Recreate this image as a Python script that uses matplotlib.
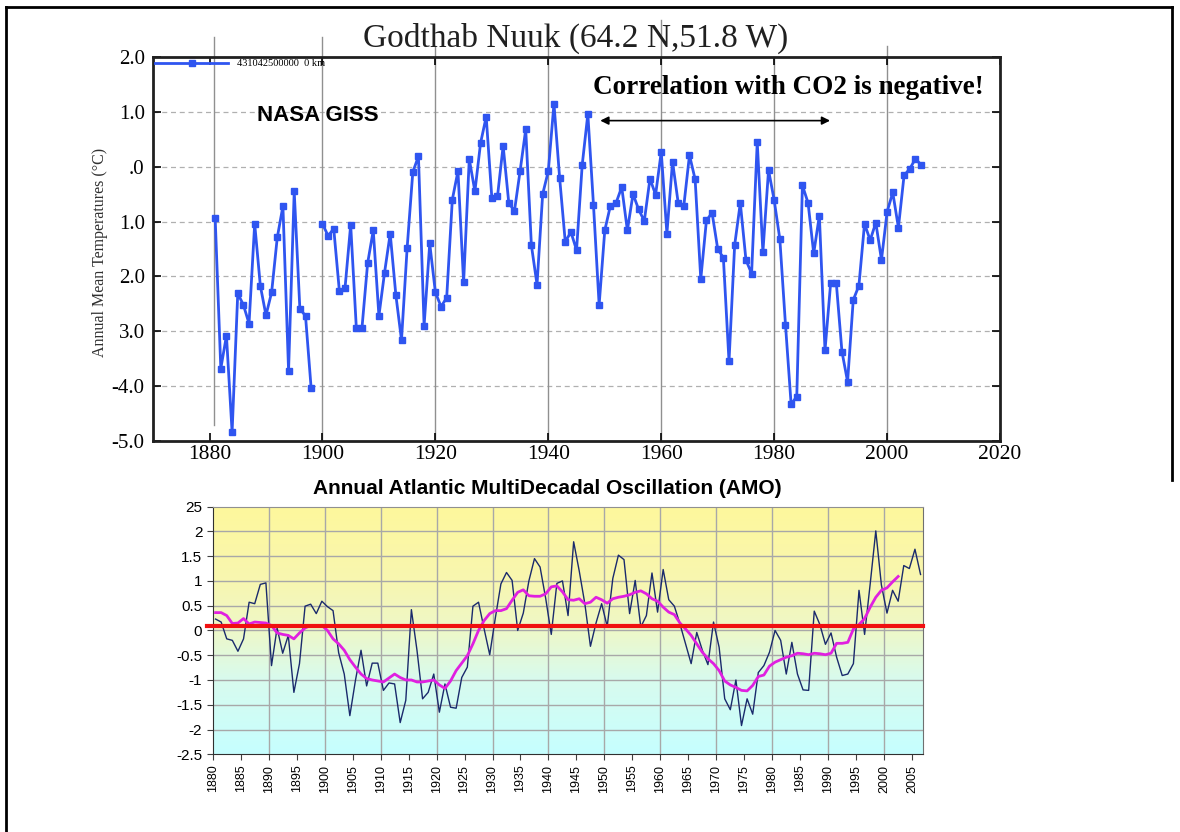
import numpy as np
import matplotlib.pyplot as plt
from matplotlib.colors import LinearSegmentedColormap
from matplotlib.lines import Line2D

# --- GISS station record, Godthab Nuuk (1899 missing) ---
giss_years = list(range(1881, 2007))
giss_temp = [
    -0.93, -3.68, -3.08, -4.84, -2.31, -2.52, -2.86, -1.04, -2.17, -2.71,   # 1881-1890
    -2.29, -1.29, -0.72, -3.72, -0.45, -2.59, -2.72, -4.04, np.nan, -1.04,  # 1891-1900
    -1.26, -1.13, -2.27, -2.21, -1.06, -2.94, -2.94, -1.76, -1.16, -2.72,   # 1901-1910
    -1.93, -1.22, -2.34, -3.16, -1.48, -0.10, 0.19, -2.90, -1.40, -2.29,    # 1911-1920
    -2.55, -2.39, -0.60, -0.08, -2.11, 0.14, -0.45, 0.43, 0.91, -0.57,      # 1921-1930
    -0.54, 0.38, -0.66, -0.81, -0.08, 0.68, -1.43, -2.15, -0.50, -0.08,     # 1931-1940
    1.15, -0.20, -1.37, -1.19, -1.52, 0.03, 0.96, -0.70, -2.52, -1.16,      # 1941-1950
    -0.71, -0.66, -0.37, -1.16, -0.50, -0.78, -0.99, -0.22, -0.51, 0.27,    # 1951-1960
    -1.22, 0.09, -0.66, -0.71, 0.21, -0.23, -2.05, -0.98, -0.84, -1.50,     # 1961-1970
    -1.66, -3.55, -1.43, -0.66, -1.70, -1.95, 0.45, -1.56, -0.06, -0.61,    # 1971-1980
    -1.32, -2.88, -4.33, -4.19, -0.34, -0.66, -1.58, -0.89, -3.35, -2.12,   # 1981-1990
    -2.12, -3.37, -3.92, -2.43, -2.17, -1.04, -1.34, -1.02, -1.70, -0.82,   # 1991-2000
    -0.47, -1.11, -0.16, -0.04, 0.14, 0.04,                                 # 2001-2006
]
top_yticks = [-5, -4, -3, -2, -1, 0, 1, 2]
top_ylabels = ['-5.0', '-4.0', '3.0', '2.0', '1.0', '.0', '1.0', '2.0']
top_xticks = [1880, 1900, 1920, 1940, 1960, 1980, 2000, 2020]
vline_years = [1880.8, 1900, 1920, 1940, 1960, 1980, 2000]
vline_tops = [2.36, 2.36, 2.2, 2.36, 2.67, 2.0, 2.2]
vline_bottoms = [-4.71, -5, -5, -5, -5, -5, -5]

# --- Annual AMO index ---
amo_years = list(range(1880, 2007))
amo = [
    0.23, 0.17, -0.17, -0.20, -0.42, -0.17, 0.57, 0.54, 0.93, 0.96,        # 1880-1889
    -0.71, 0.05, -0.46, -0.10, -1.25, -0.67, 0.49, 0.53, 0.34, 0.59,       # 1890-1899
    0.48, 0.40, -0.45, -0.88, -1.72, -1.01, -0.40, -1.12, -0.66, -0.66,    # 1900-1909
    -1.21, -1.06, -1.08, -1.86, -1.41, 0.42, -0.40, -1.38, -1.25, -0.88,   # 1910-1919
    -1.65, -1.08, -1.55, -1.57, -0.95, -0.74, 0.49, 0.57, 0.03, -0.49,     # 1920-1929
    0.25, 0.94, 1.17, 1.01, 0.00, 0.35, 1.00, 1.45, 1.28, 0.65,            # 1930-1939
    -0.08, 0.95, 1.00, 0.30, 1.79, 1.20, 0.54, -0.32, 0.15, 0.54,          # 1940-1949
    0.08, 1.05, 1.52, 1.43, 0.34, 1.01, 0.07, 0.30, 1.16, 0.37,            # 1950-1959
    1.23, 0.62, 0.49, 0.13, -0.27, -0.67, -0.04, -0.40, -0.69, 0.17,       # 1960-1969
    -0.34, -1.38, -1.60, -1.00, -1.92, -1.38, -1.69, -0.85, -0.71, -0.44,  # 1970-1979
    0.00, -0.20, -0.88, -0.24, -0.88, -1.20, -1.21, 0.39, 0.12, -0.28,     # 1980-1989
    -0.05, -0.54, -0.91, -0.88, -0.67, 0.81, -0.08, 0.94, 2.01, 0.92,      # 1990-1999
    0.35, 0.81, 0.59, 1.31, 1.25, 1.64, 1.13,                              # 2000-2006
]
smooth_years = list(range(1880, 2003))
amo_smooth = [
    0.36, 0.36, 0.30, 0.14, 0.15, 0.24, 0.13, 0.17, 0.16, 0.15,            # 1880-1889
    0.10, -0.05, -0.08, -0.10, -0.17, -0.05, 0.05, 0.10, 0.08, 0.10,       # 1890-1899
    0.00, -0.17, -0.27, -0.40, -0.59, -0.74, -0.88, -0.97, -1.00, -1.02,   # 1900-1909
    -1.04, -0.96, -0.88, -0.95, -1.00, -1.00, -1.04, -1.04, -1.02, -1.00,  # 1910-1919
    -1.10, -1.17, -1.02, -0.81, -0.66, -0.51, -0.27, 0.00, 0.20, 0.34,     # 1920-1929
    0.40, 0.40, 0.44, 0.61, 0.77, 0.82, 0.70, 0.69, 0.69, 0.74,            # 1930-1939
    0.88, 0.90, 0.78, 0.62, 0.61, 0.64, 0.54, 0.57, 0.67, 0.62,            # 1940-1949
    0.55, 0.64, 0.67, 0.69, 0.72, 0.77, 0.80, 0.74, 0.64, 0.59,            # 1950-1959
    0.47, 0.37, 0.32, 0.15, 0.03, -0.10, -0.27, -0.44, -0.57, -0.67,       # 1960-1969
    -0.81, -1.02, -1.10, -1.15, -1.21, -1.22, -1.11, -0.93, -0.90, -0.72,  # 1970-1979
    -0.64, -0.59, -0.54, -0.51, -0.46, -0.47, -0.49, -0.46, -0.47, -0.49,  # 1980-1989
    -0.46, -0.26, -0.26, -0.24, 0.03, 0.12, 0.24, 0.47, 0.67, 0.81,        # 1990-1999
    0.86, 0.98, 1.09,                                                      # 2000-2002
]
amo_ref_level = 0.08
amo_yticks = [2.5, 2, 1.5, 1, 0.5, 0, -0.5, -1, -1.5, -2, -2.5]
amo_ylabels = ['25', '2', '1.5', '1', '0.5', '0', '-0.5', '-1', '-1.5', '-2', '-2.5']
amo_xticks = list(range(1880, 2010, 5))
amo_vgrid = list(range(1890, 2010, 10))
cat_offset = 0.5  # excel-style category centre

SERIF = 'Liberation Serif'
SANS = 'Liberation Sans'

fig = plt.figure(figsize=(11.8, 8.32), dpi=100)

# ================= top chart =================
ax1 = fig.add_axes([0.1297, 0.470, 0.7178, 0.4615])
ax1.set_xlim(1870, 2020)
ax1.set_ylim(-5, 2)

for v in range(-4, 2):
    ax1.axhline(v, color='#b0b0b0', lw=0.9, ls=(0, (4, 3)), zorder=1)
for x, top, bot in zip(vline_years, vline_tops, vline_bottoms):
    ax1.plot([x, x], [bot, top], color='#909090', lw=1.0, clip_on=False, zorder=1)

ax1.plot(giss_years, giss_temp, color='#2f55f0', lw=2, marker='s', ms=4.5,
         label='431042500000  0 km', zorder=3)

ax1.set_yticks(top_yticks)
ax1.set_yticklabels(top_ylabels, fontfamily=SERIF, fontsize=15)
ax1.set_xticks(top_xticks)
ax1.set_xticklabels([str(t) for t in top_xticks], fontfamily=SERIF, fontsize=15.5)
ax1.tick_params(axis='both', direction='in', length=6, width=1.2,
                top=True, right=True, labelright=False, labeltop=False)
ax1.tick_params(axis='x', pad=3)
ax1.tick_params(axis='y', pad=6)
for s in ax1.spines.values():
    s.set_linewidth(2)
    s.set_color('#202020')

leg = ax1.legend(loc='upper left', frameon=False, handlelength=7, handletextpad=0.9,
                 borderaxespad=0.0, borderpad=0.2, prop={'family': SERIF, 'size': 7.5})

ax1.text(1899.2, 0.93, 'NASA GISS', fontfamily=SANS, fontweight='bold',
         fontsize=16, ha='center', va='center')
ax1.text(1982.6, 1.44, 'Correlation with CO2 is negative!', fontfamily=SERIF,
         fontweight='bold', fontsize=19.5, ha='center', va='center')
ax1.annotate('', xy=(1949.2, 0.84), xytext=(1989.9, 0.84),
             arrowprops=dict(arrowstyle='<|-|>', color='black', lw=1.2,
                             mutation_scale=12, shrinkA=0, shrinkB=0))

fig.text(0.488, 0.954, 'Godthab Nuuk (64.2 N,51.8 W)', fontfamily=SERIF,
         fontsize=24, ha='center', va='center', color='#202020')
fig.text(0.085, 0.697, 'Annual Mean Temperatures (°C)', fontfamily=SERIF,
         fontsize=11.5, rotation=90, ha='center', va='center', color='#303030')

# ================= bottom chart =================
ax2 = fig.add_axes([0.1803, 0.0934, 0.6022, 0.2977])
ax2.set_xlim(1880, 2007)
ax2.set_ylim(-2.5, 2.5)

bg = LinearSegmentedColormap.from_list(
    'bg', [(0.0, '#c6ffff'), (0.3, '#d8fbee'), (0.5, '#eef8c8'),
           (0.7, '#f8f6b0'), (1.0, '#fef89c')])
ax2.imshow(np.linspace(1, 0, 256).reshape(-1, 1), extent=[1880, 2007, -2.5, 2.5],
           aspect='auto', cmap=bg, zorder=0)

for v in amo_yticks[1:-1]:
    ax2.axhline(v, color='#a8a8a8', lw=1.0, zorder=1)
for x in amo_vgrid:
    ax2.axvline(x, color='#a8a8a8', lw=1.0, zorder=1)

xa = [y + cat_offset for y in amo_years]
xs = [y + cat_offset for y in smooth_years]
ax2.plot(xa, amo, color='#1a2a6c', lw=1.0, zorder=3)
ax2.plot(xs, amo_smooth, color='#e020e0', lw=2.0, zorder=4)
ax2.plot([1879, 2007], [amo_ref_level, amo_ref_level], color='#f01010', lw=3,
         clip_on=False, zorder=5)

ax2.set_yticks(amo_yticks)
ax2.set_yticklabels(amo_ylabels, fontfamily=SANS, fontsize=11)
ax2.set_xticks(amo_xticks)
ax2.set_xticklabels([str(t) for t in amo_xticks], fontfamily=SANS, fontsize=9,
                    rotation=90)
ax2.tick_params(axis='both', direction='out', length=4, width=0.8, color='#404040')
ax2.spines['left'].set_color('#303030')
ax2.spines['bottom'].set_color('#303030')
ax2.spines['top'].set_color('#909090')
ax2.spines['right'].set_color('#707070')

fig.text(0.464, 0.413, 'Annual Atlantic MultiDecadal Oscillation (AMO)',
         fontfamily=SANS, fontweight='bold', fontsize=15, ha='center', va='center')

# outer page frame
fig.add_artist(Line2D([6 / 1180, 6 / 1180], [0, 1 - 7 / 832], color='black', lw=2))
fig.add_artist(Line2D([6 / 1180, 1172 / 1180], [1 - 7 / 832, 1 - 7 / 832], color='black', lw=2))
fig.add_artist(Line2D([1172 / 1180, 1172 / 1180], [1 - 7 / 832, 1 - 480 / 832], color='black', lw=2))

fig.savefig('out.png', dpi=100)
